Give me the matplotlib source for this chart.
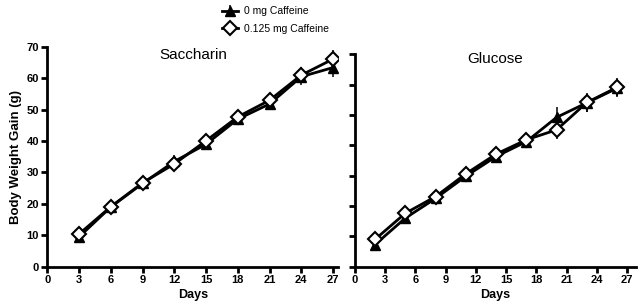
import numpy as np
import matplotlib
matplotlib.use('Agg')
import matplotlib.pyplot as plt

plt.rcParams['font.family'] = ['Liberation Sans', 'DejaVu Sans']

# Saccharin panel
sac_days = [3, 6, 9, 12, 15, 18, 21, 24, 27]
sac_0mg = [9.5, 19.0, 26.5, 33.5, 39.0, 47.0, 51.8, 60.5, 63.4]
sac_0mg_err = [1.0, 1.0, 1.2, 2.0, 1.5, 1.8, 2.0, 2.5, 3.0]
sac_125 = [10.4, 19.1, 26.7, 32.7, 40.1, 47.7, 53.0, 61.0, 66.1]
sac_125_err = [1.0, 1.0, 1.2, 1.5, 1.5, 1.8, 2.0, 2.5, 3.0]

# Glucose panel
glu_days = [2, 5, 8, 11, 14, 17, 20, 23, 26]
glu_0mg = [7.3, 16.0, 22.5, 29.8, 36.3, 41.2, 49.2, 54.0, 58.8]
glu_0mg_err = [1.0, 1.2, 1.2, 1.5, 1.5, 1.8, 3.5, 3.0, 3.0]
glu_125 = [9.0, 17.6, 23.1, 30.6, 37.1, 41.8, 45.1, 54.1, 59.1]
glu_125_err = [1.0, 1.2, 1.2, 1.5, 1.5, 1.8, 3.0, 3.0, 3.0]

fig = plt.figure(figsize=(6.44, 3.08), dpi=100)
ax1 = fig.add_axes([0.0734, 0.134, 0.452, 0.714])
ax2 = fig.add_axes([0.551, 0.134, 0.437, 0.690])


def draw(ax, days, y0, e0, y1, e1, title, xmax, ty):
    ax.errorbar(days, y0, yerr=e0, color='black', lw=2, elinewidth=1.1,
                capsize=0, marker='^', ms=7, mfc='black', mec='black',
                label='0 mg Caffeine', zorder=3)
    ax.errorbar(days, y1, yerr=e1, color='black', lw=2, elinewidth=1.1,
                capsize=0, marker='D', ms=7.5, mfc='white', mec='black',
                mew=1.5, label='0.125 mg Caffeine', zorder=4)
    ax.set_xlim(0, xmax)
    ax.set_ylim(0, 70)
    ax.set_xticks(range(0, 28, 3))
    ax.set_yticks(range(0, 71, 10))
    ax.spines['top'].set_visible(False)
    ax.spines['right'].set_visible(False)
    for s in ['left', 'bottom']:
        ax.spines[s].set_linewidth(2)
    ax.tick_params(width=2, length=4, labelsize=8, pad=2)
    for lab in ax.get_xticklabels() + ax.get_yticklabels():
        lab.set_fontweight('bold')
    ax.set_xlabel('Days', fontsize=9, fontweight='bold', labelpad=3)
    ax.text(0.5, ty, title, transform=ax.transAxes, ha='center', va='top',
            fontsize=11)


draw(ax1, sac_days, sac_0mg, sac_0mg_err, sac_125, sac_125_err, 'Saccharin', 27.5, 0.995)
draw(ax2, glu_days, glu_0mg, glu_0mg_err, glu_125, glu_125_err, 'Glucose', 27.9, 1.01)
ax2.set_yticklabels([])
ax1.set_ylabel('Body Weight Gain (g)', fontsize=9.5, fontweight='bold', labelpad=3)

h, l = ax1.get_legend_handles_labels()
fig.legend(h, l, loc='upper left', bbox_to_anchor=(0.345, 0.98), frameon=False,
           fontsize=7.5, handlelength=1.5, handletextpad=0.6, labelspacing=0.75,
           borderpad=0, borderaxespad=0)

plt.savefig('out.png', dpi=100)
